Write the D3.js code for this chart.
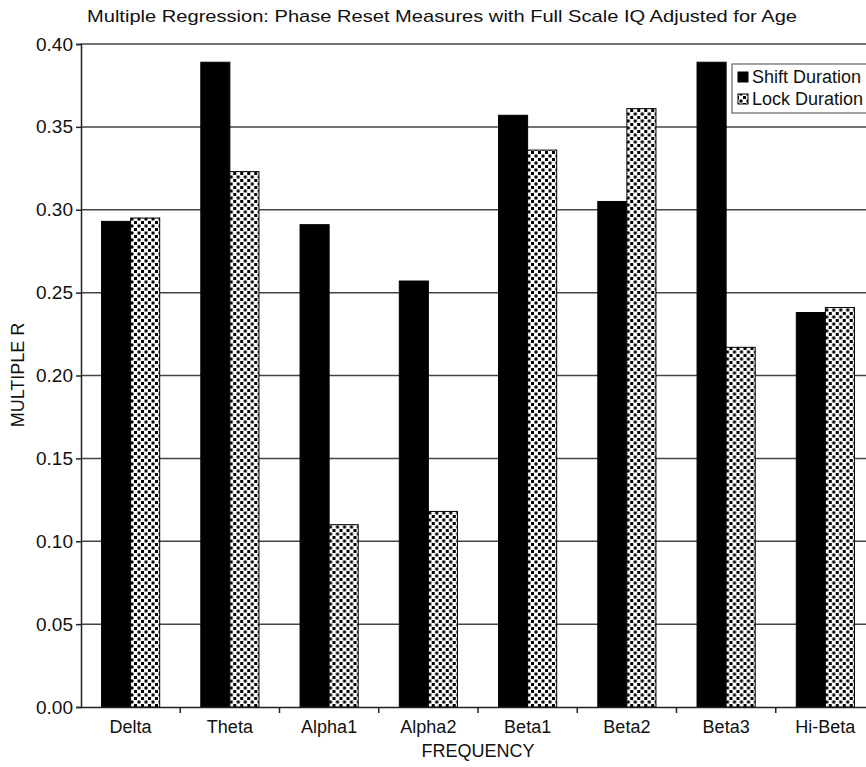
<!DOCTYPE html>
<html><head><meta charset="utf-8">
<script src="https://cdn.jsdelivr.net/npm/d3@7"></script>
<style>
html,body{margin:0;padding:0;background:#fff;}
svg{display:block;font-family:"Liberation Sans",Arial,Helvetica,sans-serif;}
</style></head>
<body><svg id="chart" width="866" height="767"></svg>
<script>
const categories = ["Delta","Theta","Alpha1","Alpha2","Beta1","Beta2","Beta3","Hi-Beta"];
const seriesNames = ["Shift Duration","Lock Duration"];
const shiftDuration = [0.293, 0.389, 0.291, 0.257, 0.357, 0.305, 0.389, 0.238];
const lockDuration  = [0.295, 0.323, 0.110, 0.118, 0.336, 0.361, 0.217, 0.241];
const yTicks = [0,0.05,0.10,0.15,0.20,0.25,0.30,0.35,0.40];
const titleText = "Multiple Regression:  Phase Reset Measures with Full Scale IQ Adjusted for Age";
const xTitle = "FREQUENCY";
const yTitle = "MULTIPLE R";

const svg = d3.select("#chart");
const m = {left:81, top:44, right:875, bottom:707};
const FONT = "'Liberation Sans',Arial,Helvetica,sans-serif";

const defs = svg.append("defs");
const pat = defs.append("pattern").attr("id","dots").attr("patternUnits","userSpaceOnUse")
  .attr("width",7).attr("height",7);
pat.append("rect").attr("width",7).attr("height",7).attr("fill","#fff");
pat.append("rect").attr("x",0.5).attr("y",0.5).attr("width",3).attr("height",3).attr("fill","#000");
pat.append("rect").attr("x",4).attr("y",4).attr("width",3).attr("height",3).attr("fill","#000");

const y = d3.scaleLinear().domain([0,0.40]).range([m.bottom,m.top]);
const x0 = d3.scaleBand().domain(categories).range([m.left,m.right]).padding(0);
const bw = x0.bandwidth();
const x1 = d3.scaleBand().domain(seriesNames).range([bw*0.207, bw*0.793]).padding(0);

// gridlines
svg.append("g").selectAll("line").data(yTicks.filter(d=>d>0)).join("line")
  .attr("x1",m.left).attr("x2",m.right)
  .attr("y1",d=>y(d)).attr("y2",d=>y(d))
  .attr("stroke","#444").attr("stroke-width",1.5);

// bars
const data = categories.map((c,i)=>({cat:c, vals:[shiftDuration[i], lockDuration[i]]}));
const groups = svg.append("g").selectAll("g").data(data).join("g")
  .attr("transform",d=>`translate(${x0(d.cat)},0)`);
groups.selectAll("rect").data(d=>d.vals.map((v,j)=>({s:seriesNames[j],v}))).join("rect")
  .attr("x",d=>x1(d.s)).attr("width",x1.bandwidth())
  .attr("y",d=>y(d.v)).attr("height",d=>y(0)-y(d.v))
  .attr("fill",d=>d.s===seriesNames[0]?"#000":"url(#dots)")
  .attr("stroke","#000").attr("stroke-width",1);

// y axis
const yAxis = d3.axisLeft(y).tickValues(yTicks).tickFormat(d3.format(".2f")).tickSize(5).tickPadding(3);
const gy = svg.append("g").attr("transform",`translate(${m.left},0)`).call(yAxis);
gy.attr("font-size",19).attr("font-family",FONT);
gy.select(".domain").attr("stroke","#222").attr("stroke-width",1.5);
gy.selectAll(".tick line").attr("stroke","#222").attr("stroke-width",1.5);
gy.selectAll(".tick text").style("font-size","19px").attr("fill","#111");

// x axis
const xAxis = d3.axisBottom(x0).tickSize(0).tickPadding(13);
const gx = svg.append("g").attr("transform",`translate(0,${m.bottom})`).call(xAxis);
gx.attr("font-size",18).attr("font-family",FONT);
gx.select(".domain").attr("stroke","#222").attr("stroke-width",1.5);
gx.selectAll(".tick text").style("font-size","18px").attr("fill","#111");
// boundary ticks
svg.append("g").selectAll("line").data(categories.slice(1)).join("line")
  .attr("x1",d=>x0(d)).attr("x2",d=>x0(d)).attr("y1",m.bottom).attr("y2",m.bottom+6)
  .attr("stroke","#222").attr("stroke-width",1.5);

// titles
svg.append("text").attr("x",442).attr("y",22).attr("text-anchor","middle")
  .style("font-size","17px").attr("fill","#111").attr("textLength",710).attr("lengthAdjust","spacingAndGlyphs").text(titleText);
svg.append("text").attr("x",478).attr("y",757).attr("text-anchor","middle")
  .style("font-size","18px").attr("fill","#111").text(xTitle);
svg.append("text").attr("transform","translate(24,375) rotate(-90)").attr("text-anchor","middle")
  .style("font-size","18px").attr("fill","#111").text(yTitle);

// legend
const lg = svg.append("g").attr("transform","translate(732,64)");
lg.append("rect").attr("x",0).attr("y",0).attr("width",170).attr("height",49)
  .attr("fill","#fff").attr("stroke","#666").attr("stroke-width",1.2);
seriesNames.forEach((s,i)=>{
  lg.append("rect").attr("x",6).attr("y",8+i*22).attr("width",10).attr("height",10)
    .attr("fill",i===0?"#000":"url(#dots)").attr("stroke","#000").attr("stroke-width",1);
  lg.append("text").attr("x",20).attr("y",19+i*22).style("font-size","18px").attr("fill","#111").text(s);
});
</script></body></html>
